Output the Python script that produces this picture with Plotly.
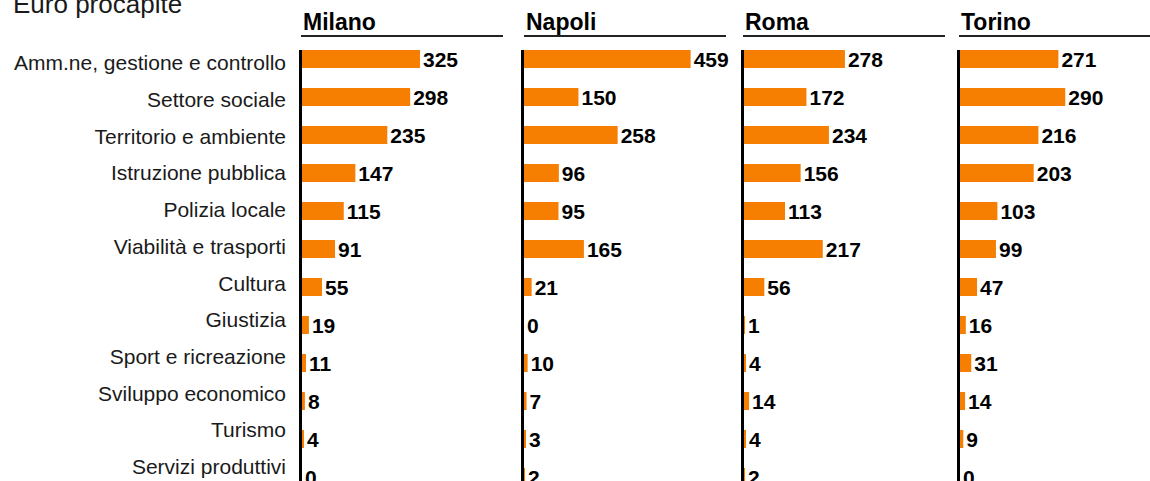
import plotly.graph_objects as go

# voci di spesa (dall'alto in basso)
categorie = ["Amm.ne, gestione e controllo", "Settore sociale", "Territorio e ambiente",
             "Istruzione pubblica", "Polizia locale", "Viabilità e trasporti", "Cultura",
             "Giustizia", "Sport e ricreazione", "Sviluppo economico", "Turismo",
             "Servizi produttivi"]

citta = ["Milano", "Napoli", "Roma", "Torino"]

milano = [325, 298, 235, 147, 115, 91, 55, 19, 11, 8, 4, 0]
napoli = [459, 150, 258, 96, 95, 165, 21, 0, 10, 7, 3, 2]
roma = [278, 172, 234, 156, 113, 217, 56, 1, 4, 14, 4, 2]
torino = [271, 290, 216, 203, 103, 99, 47, 16, 31, 14, 9, 0]

valori = [milano, napoli, roma, torino]

W, H = 1150, 481
arancio = "#F67E00"
font_base = "Liberation Sans, Arial, sans-serif"

# posizioni dei pannelli in pixel (asse sinistro di ogni pannello)
x_start = [302, 524, 744, 960]
px_per_euro = 0.363
top_assi = 50        # inizio della linea verticale
riga0, passo = 59, 38          # centro della prima barra e passo fra le barre
etich0, passo_etich = 63, 36.7  # le etichette delle voci hanno un passo un po' diverso

fig = go.Figure()
layout = {}
for i, (nome, vals) in enumerate(zip(citta, valori)):
    n = "" if i == 0 else str(i + 1)
    largh = min(200, W - x_start[i])
    fig.add_trace(go.Bar(
        x=vals, y=categorie, orientation="h",
        marker=dict(color=arancio, line=dict(width=0)),
        width=18 / passo,
        text=vals, textposition="outside", cliponaxis=False, constraintext="none",
        textfont=dict(family=font_base, size=21, color="black", weight="bold"),
        xaxis="x" + n, yaxis="y" + n, showlegend=False, hoverinfo="x+y",
    ))
    layout["xaxis" + n] = dict(
        domain=[x_start[i] / W, (x_start[i] + largh) / W],
        range=[0, largh / px_per_euro], visible=False, anchor="y" + n, fixedrange=True,
    )
    layout["yaxis" + n] = dict(
        domain=[0, (H - top_assi) / H], anchor="x" + n,
        type="category", categoryorder="array", categoryarray=categorie,
        range=[(H - riga0) / passo, (top_assi - riga0) / passo],
        showline=True, linewidth=3, linecolor="black",
        showgrid=False, zeroline=False, ticks="", showticklabels=False,
    )

# asse sovrapposto solo per le etichette delle voci
fig.add_trace(go.Scatter(
    x=[0] * len(categorie), y=categorie, mode="markers",
    marker=dict(opacity=0), xaxis="x", yaxis="y5",
    showlegend=False, hoverinfo="skip",
))
layout["yaxis5"] = dict(
    domain=[0, (H - top_assi) / H], anchor="x", overlaying="y",
    type="category", categoryorder="array", categoryarray=categorie,
    range=[(H - etich0) / passo_etich, (top_assi - etich0) / passo_etich],
    showline=False, showgrid=False, zeroline=False, ticks="",
    ticklabelstandoff=15,
    tickfont=dict(family=font_base, size=21, color="#1a1a1a"),
)

# titoli dei pannelli con sottolineatura
titoli_x = [301, 524, 743, 959]
annotazioni = []
forme = []
for i, nome in enumerate(citta):
    annotazioni.append(dict(
        text="<b>" + nome + "</b>", x=titoli_x[i] / W, y=1 - 22 / H,
        xref="paper", yref="paper", xanchor="left", yanchor="middle",
        showarrow=False, font=dict(family=font_base, size=23, color="black"),
    ))
    forme.append(dict(
        type="line", xref="paper", yref="paper",
        x0=titoli_x[i] / W, x1=min(titoli_x[i] + 202, W) / W,
        y0=1 - 36 / H, y1=1 - 36 / H,
        line=dict(color="#222222", width=2),
    ))

annotazioni.append(dict(
    text="Euro procapite", x=11 / W, y=1 - 4 / H,
    xref="paper", yref="paper", xanchor="left", yanchor="middle",
    showarrow=False, font=dict(family=font_base, size=26, color="#1a1a1a"),
))

fig.update_layout(
    width=W, height=H,
    margin=dict(l=0, r=0, t=0, b=0),
    paper_bgcolor="white", plot_bgcolor="white",
    annotations=annotazioni, shapes=forme,
    **layout,
)

# niente margine di pagina, così il grafico parte dall'angolo in alto a sinistra
fig.write_html("out.html", config={"displayModeBar": False},
               post_script="document.body.style.margin='0';")
